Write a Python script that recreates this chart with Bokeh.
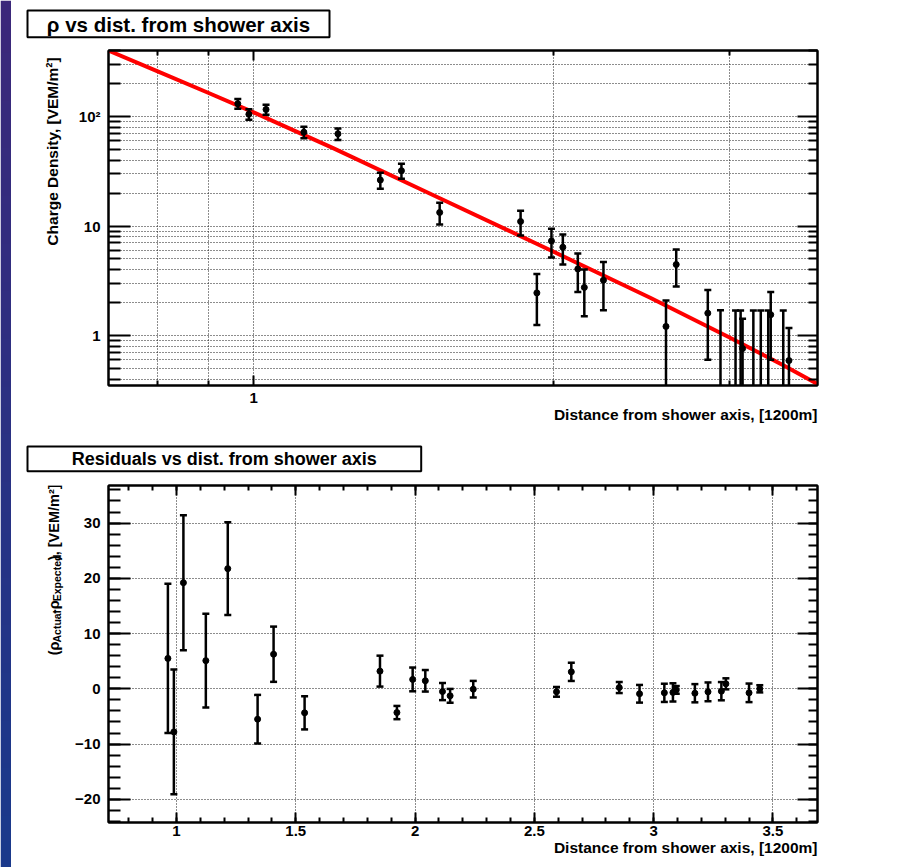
import numpy as np
from bokeh.plotting import figure
from bokeh.layouts import row, column
from bokeh.models import (FixedTicker, SingleIntervalTicker, LogAxis, LinearAxis,
                          CustomJSTickFormatter, Range1d, Title)
from bokeh.core.properties import value
from bokeh.embed import file_html
from bokeh.resources import INLINE

# Station distance from the shower axis, in units of 1200 m
distance = [0.964, 0.989, 1.029, 1.123, 1.215, 1.340, 1.407, 1.537, 1.853, 1.924,
            1.990, 2.043, 2.115, 2.147, 2.244, 2.593, 2.655, 2.856, 2.941, 3.045,
            3.081, 3.095, 3.173, 3.228, 3.284, 3.303, 3.400, 3.445]

# Measured charge density [VEM/m^2] and its uncertainty
density = [131, 105, 116, 72, 69.5, 26.3, 32.0, 13.3, 11.0, 2.45,
           7.3, 6.4, 4.05, 2.75, 3.2, 1.21, 4.45, 1.6, 0.15, 0.17,
           0.17, 0.76, 0.12, 0.12, 0.12, 1.55, 0.10, 0.59]
density_err = [13.5, 11.3, 12.2, 8.5, 8.4, 4.4, 5.0, 3.0, 2.8, 1.2,
               2.15, 1.95, 1.55, 1.25, 1.5, 0.88, 1.65, 1.0, 1.55, 1.52,
               1.52, 0.66, 1.57, 1.57, 1.57, 0.95, 1.59, 0.58]

# Residuals (actual - expected) [VEM/m^2] and their uncertainty
residual = [5.5, -7.8, 19.2, 5.1, 21.75, -5.5, 6.26, -4.35, 3.2, -4.3,
            1.7, 1.45, -0.5, -1.27, -0.07, -0.55, 3.07, 0.23, -0.9, -0.73,
            -0.65, -0.2, -0.8, -0.55, -0.43, 0.9, -0.73, 0.0]
residual_err = [13.5, 11.3, 12.2, 8.5, 8.4, 4.4, 5.0, 3.0, 2.8, 1.2,
                2.15, 1.95, 1.55, 1.25, 1.5, 0.88, 1.65, 1.0, 1.6, 1.65,
                1.65, 0.7, 1.65, 1.7, 1.65, 1.0, 1.68, 0.65]

# Lateral distribution fit, sampled along the curve
fit_distance = [0.715, 0.80, 0.90, 1.0, 1.2, 1.5, 2.0, 2.5, 3.0, 3.4, 3.68]
fit_density = [400, 260, 165, 109, 51.7, 19.9, 5.82, 2.21, 0.965, 0.536, 0.36]

TITLE_TOP = "\u03c1 vs dist. from shower axis"
TITLE_BOT = "Residuals vs dist. from shower axis"
XLABEL = "Distance from shower axis, [1200m]"
YLABEL_TOP = "Charge Density, [VEM/m\u00b2]"

FONT = "Liberation Sans"
STRIP_W = 11
LABEL_COL_W = 59          # column holding the vertical axis titles
MAIN_W = 886 - LABEL_COL_W
GRID_COLOR = "#1a1a1a"


def style_axis(ax, major_len, minor_len, labels=True, standoff=8):
    ax.major_tick_in = major_len
    ax.major_tick_out = 0
    ax.minor_tick_in = minor_len
    ax.minor_tick_out = 0
    ax.major_tick_line_width = 2
    ax.minor_tick_line_width = 2
    ax.major_tick_line_color = "black"
    ax.minor_tick_line_color = "black"
    ax.axis_line_width = 2
    ax.axis_line_color = "black"
    ax.major_label_text_font = FONT
    ax.major_label_text_font_style = "bold"
    ax.major_label_text_font_size = "15px"
    ax.major_label_text_color = "black"
    ax.major_label_standoff = standoff
    if not labels:
        ax.formatter = CustomJSTickFormatter(code="return ''")
        ax.major_label_text_font_size = "0px"
        ax.major_label_standoff = 0


def canvas(w, h, x0, y0):
    """Blank drawing area whose data coordinates are page pixels (y downward)."""
    c = figure(width=w, height=h, x_range=Range1d(x0, x0 + w), y_range=Range1d(y0 + h, y0),
               x_axis_type=None, y_axis_type=None, toolbar_location=None,
               output_backend="svg", min_border=0)
    c.outline_line_color = None
    c.background_fill_color = "white"
    c.border_fill_color = "white"
    return c


def put_text(c, x, y, text, size, align="left", baseline="middle", angle=0.0):
    c.text(x=[x], y=[y], text=[text], text_font=value(FONT), text_font_style=value("bold"),
           text_font_size=value(size), text_color="black", text_align=align,
           text_baseline=baseline, angle=angle)


def main_figure(height, x_type, y_type, xr, yr, top_border, bottom_border):
    p = figure(width=MAIN_W, height=height, x_axis_type=x_type, y_axis_type=y_type,
               x_range=xr, y_range=yr, output_backend="svg", toolbar_location=None,
               min_border_left=108 - STRIP_W - LABEL_COL_W, min_border_right=80,
               min_border_top=top_border, min_border_bottom=bottom_border)
    p.outline_line_color = "black"
    p.outline_line_width = 2
    p.background_fill_color = "white"
    p.border_fill_color = "white"
    return p


def grid_style(g, minor=False):
    g.grid_line_color = GRID_COLOR
    g.grid_line_width = 1
    g.grid_line_dash = "1 2"
    if minor:
        g.minor_grid_line_color = GRID_COLOR
        g.minor_grid_line_width = 1
        g.minor_grid_line_dash = "1 2"


def error_bars(p, x, y, err, floor=None):
    y = np.asarray(y, dtype=float)
    err = np.asarray(err, dtype=float)
    lo = y - err
    if floor is not None:
        lo = np.maximum(lo, floor)
    hi = y + err
    p.segment(x0=x, y0=lo, x1=x, y1=hi, line_color="black", line_width=2.5)
    p.scatter(x, hi, marker="dash", size=7, line_color="black", line_width=2.5)
    p.scatter(x, lo, marker="dash", size=7, line_color="black", line_width=2.5)
    p.scatter(x, y, marker="circle", size=6, fill_color="black", line_color="black")


def x_title(p, standoff):
    p.add_layout(Title(text=XLABEL, align="right", vertical_align="top", offset=0,
                       standoff=standoff, text_font=FONT, text_font_style="bold",
                       text_font_size="15.5px", text_color="black"), "below")


# ---------------- upper panel: density vs distance (log-log) ----------------
top = main_figure(394, "log", "log", Range1d(0.715, 3.68), Range1d(0.3494, 401), 10, 49)

x_ticks = FixedTicker(ticks=[1], minor_ticks=[0.8, 0.9, 2, 3])
y_ticks = FixedTicker(ticks=[1, 10, 100],
                      minor_ticks=[0.4, 0.5, 0.6, 0.7, 0.8, 0.9,
                                   2, 3, 4, 5, 6, 7, 8, 9,
                                   20, 30, 40, 50, 60, 70, 80, 90,
                                   200, 300, 400])
top.xaxis.ticker = x_ticks
top.yaxis.ticker = y_ticks
top.xaxis.formatter = CustomJSTickFormatter(code="return String(tick)")
top.yaxis.formatter = CustomJSTickFormatter(
    code="return tick >= 100 ? '10\u00b2' : String(tick)")
style_axis(top.xaxis[0], 10, 5, standoff=7)
style_axis(top.yaxis[0], 22, 12, standoff=8)
ax_t = LogAxis(ticker=x_ticks)
style_axis(ax_t, 10, 5, labels=False)
top.add_layout(ax_t, "above")
ax_r = LogAxis(ticker=y_ticks)
style_axis(ax_r, 20, 9, labels=False)
top.add_layout(ax_r, "right")
grid_style(top.xgrid[0], minor=True)
grid_style(top.ygrid[0], minor=True)

top.line(fit_distance, fit_density, line_color="red", line_width=4)
error_bars(top, distance, density, density_err, floor=1e-3)
x_title(top, 0)

# ---------------- lower panel: residuals vs distance ----------------
bot = main_figure(391, "linear", "linear", Range1d(0.715, 3.687), Range1d(-24.2, 36.8), 9, 45)
bx_ticks = SingleIntervalTicker(interval=0.5, num_minor_ticks=5)
by_ticks = SingleIntervalTicker(interval=10, num_minor_ticks=5)
bot.xaxis.ticker = bx_ticks
bot.yaxis.ticker = by_ticks
bot.xaxis.formatter = CustomJSTickFormatter(
    code="return String(Math.round(tick * 10) / 10)")
bot.yaxis.formatter = CustomJSTickFormatter(
    code="return tick < 0 ? '\u2212' + String(-tick) : String(tick)")
style_axis(bot.xaxis[0], 10, 5, standoff=3)
style_axis(bot.yaxis[0], 22, 12, standoff=8)
bax_t = LinearAxis(ticker=bx_ticks)
style_axis(bax_t, 10, 5, labels=False)
bot.add_layout(bax_t, "above")
bax_r = LinearAxis(ticker=by_ticks)
style_axis(bax_r, 20, 9, labels=False)
bot.add_layout(bax_r, "right")
grid_style(bot.xgrid[0])
grid_style(bot.ygrid[0])

error_bars(bot, distance, residual, residual_err)
x_title(bot, 0)

# ---------------- panel titles in framed boxes ----------------
head_top = canvas(886, 40, STRIP_W, 0)
head_top.quad(left=[27], right=[329], top=[10], bottom=[36.7], fill_color="white",
              line_color="black", line_width=2)
put_text(head_top, 178, 23.8, TITLE_TOP, "20.5px", align="center")

head_bot = canvas(886, 42, STRIP_W, 434)
head_bot.quad(left=[27], right=[420.7], top=[446], bottom=[470.7], fill_color="white",
              line_color="black", line_width=2)
put_text(head_bot, 223.8, 458.6, TITLE_BOT, "18px", align="center")

# ---------------- vertical axis titles ----------------
ylab_top = canvas(LABEL_COL_W, 394, STRIP_W, 40)
put_text(ylab_top, 52.0, 48, YLABEL_TOP, "15.5px", align="right", baseline="alphabetic",
         angle=np.pi / 2)

ylab_bot = canvas(LABEL_COL_W, 391, STRIP_W, 476)
# label with subscripts, laid out run by run from the bottom upwards
# (Helvetica-bold advance widths)
ADV = {"(": 333, ")": 333, ",": 278, " ": 278, "[": 333, "]": 333, "-": 333, "/": 278,
       "\u00b2": 333, "\u03c1": 620, "A": 722, "E": 667, "M": 833, "V": 667, "a": 556,
       "c": 556, "d": 611, "e": 556, "l": 278, "m": 889, "p": 611, "t": 333, "u": 611,
       "x": 556}


def run_width(s, size):
    return sum(ADV.get(ch, 556) for ch in s) * size / 1000.0


MAIN, SUB = 14.5, 10.5
runs = [("(\u03c1", MAIN, 0.0), ("Actual", SUB, 3.5), ("-\u03c1", MAIN, 0.0),
        ("Expected", SUB, 3.5), ("), [VEM/m\u00b2]", MAIN, 0.0)]
cursor = 673.0
for t, s, shift in runs:
    put_text(ylab_bot, 53.0 + shift, cursor, t, f"{s}px", align="left",
             baseline="alphabetic", angle=np.pi / 2)
    cursor -= run_width(t, s) + 1.0

# ---------------- decorative side band ----------------
strip = figure(width=STRIP_W, height=867, x_range=Range1d(0, 1), y_range=Range1d(0, 1),
               x_axis_type=None, y_axis_type=None, toolbar_location=None,
               output_backend="svg", min_border=0)
strip.outline_line_color = None
n = 200
c_top = np.array([60, 40, 122], dtype=float)
c_bot = np.array([26, 58, 140], dtype=float)
f = np.linspace(1, 0, n)[:, None]          # row 0 is the bottom of the image
rgb = (c_top * (1 - f) + c_bot * f).astype(np.uint32)
img = (255 << 24) | (rgb[:, 2] << 16) | (rgb[:, 1] << 8) | rgb[:, 0]
strip.image_rgba(image=[img.reshape(n, 1)], x=0, y=0, dw=1, dh=1)

layout = row(strip, column(head_top, row(ylab_top, top), head_bot, row(ylab_bot, bot)))
open("out.html", "w").write(file_html(layout, INLINE))
